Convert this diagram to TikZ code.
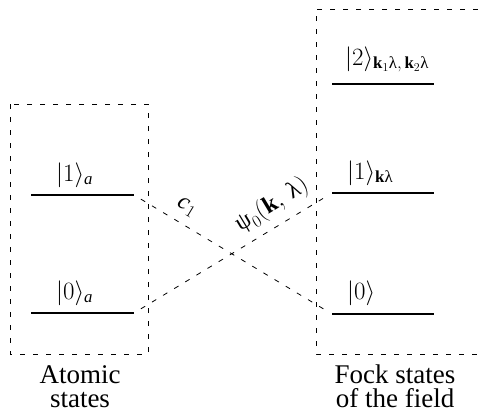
\documentclass[tikz,border=0pt]{standalone}
\usepackage{fontspec}
\setmainfont{Liberation Serif}
\usepackage{amsmath}
\begin{document}
\begin{tikzpicture}[x=1pt,y=-1pt,
  box/.style={dash pattern=on 5pt off 8pt, line width=0.8pt},
  level/.style={line width=1.8pt},
  trans/.style={dash pattern=on 5pt off 8pt, line width=0.8pt, shorten <=8pt, shorten >=8pt},
  lab/.style={font=\fontsize{24}{26}\selectfont, anchor=base west, inner sep=0pt},
  tlab/.style={font=\fontsize{24}{26}\selectfont, inner sep=0pt},
  capt/.style={font=\fontsize{27}{24}\selectfont, align=center, inner sep=0pt, anchor=base}]
\useasboundingbox (0,0) rectangle (478,418);
% boxes
\draw[box] (10,104) rectangle (148,354);
\draw[box] (478,9) -- (316,9) -- (316,354) -- (478,354);
% level coordinates
\coordinate (a1L) at (31,195); \coordinate (a1R) at (134,195);
\coordinate (a0L) at (31,313); \coordinate (a0R) at (134,313);
\coordinate (f2L) at (332,84); \coordinate (f2R) at (434,84);
\coordinate (f1L) at (332,193); \coordinate (f1R) at (434,193);
\coordinate (f0L) at (332,314); \coordinate (f0R) at (434,314);
\draw[level] (a1L) -- (a1R);
\draw[level] (a0L) -- (a0R);
\draw[level] (f2L) -- (f2R);
\draw[level] (f1L) -- (f1R);
\draw[level] (f0L) -- (f0R);
% labels
\node[lab] (la1) at (56,181) {$|1\rangle_{\mathit{a}}$};
\node[lab] (la0) at (56,299) {$|0\rangle_{\mathit{a}}$};
\node[lab] (lf2) at (345,65) {$|2\rangle_{\mathbf{k}_1\text{λ},\,\mathbf{k}_2\text{λ}}$};
\node[lab] (lf1) at (347,179) {$|1\rangle_{\mathbf{k}\text{λ}}$};
\node[lab] (lf0) at (347,299) {$|0\rangle$};
% transitions
\draw[trans] (a1R) -- (f0L);
\draw[trans] (a0R) -- (f1L);
\node[tlab, rotate=-31] (c1) at (187,207) {$\mathit{c}_1$};
\node[tlab, rotate=31] (psi) at (272,205) {$\text{ψ}_0(\mathbf{k},\,\text{λ})$};
% captions
\node[capt] (ca) at (80,407) {Atomic\\states};
\node[capt] (cf) at (395,407) {Fock states\\of the field};
\end{tikzpicture}
\end{document}
